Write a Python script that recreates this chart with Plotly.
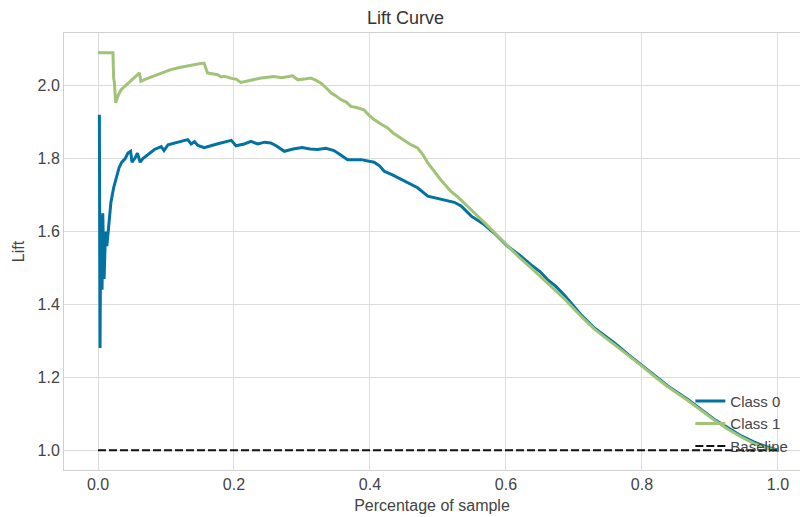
import plotly.graph_objects as go

# ---- data ----
class0_x = [0.002, 0.003, 0.004, 0.006, 0.007, 0.009, 0.011, 0.013, 0.016, 0.019, 0.023, 0.027,
            0.031, 0.035, 0.040, 0.044, 0.048, 0.050, 0.054, 0.058, 0.062, 0.066, 0.073, 0.083,
            0.093, 0.097, 0.103, 0.115, 0.132, 0.137, 0.142, 0.147, 0.156, 0.175, 0.196, 0.203,
            0.215, 0.225, 0.235, 0.245, 0.254, 0.262, 0.274, 0.287, 0.300, 0.312, 0.323, 0.335,
            0.347, 0.357, 0.367, 0.387, 0.406, 0.414, 0.421, 0.433, 0.446, 0.458, 0.470, 0.485,
            0.504, 0.524, 0.534, 0.549, 0.568, 0.583, 0.602, 0.620, 0.637, 0.650, 0.661, 0.673,
            0.686, 0.700, 0.710, 0.730, 0.759, 0.780, 0.801, 0.820, 0.838, 0.867, 0.886, 0.906,
            0.926, 0.946, 0.965, 0.985, 1.000]
class0_y = [1.920, 1.280, 1.640, 1.440, 1.650, 1.470, 1.600, 1.560, 1.620, 1.680, 1.720, 1.750,
            1.775, 1.790, 1.800, 1.815, 1.820, 1.790, 1.800, 1.815, 1.790, 1.800, 1.810, 1.825,
            1.833, 1.822, 1.838, 1.843, 1.852, 1.840, 1.846, 1.836, 1.830, 1.840, 1.850, 1.835,
            1.840, 1.847, 1.840, 1.845, 1.843, 1.835, 1.820, 1.826, 1.830, 1.826, 1.825, 1.828,
            1.822, 1.810, 1.797, 1.797, 1.790, 1.780, 1.765, 1.755, 1.742, 1.730, 1.720, 1.697,
            1.688, 1.680, 1.670, 1.642, 1.619, 1.595, 1.560, 1.535, 1.508, 1.490, 1.468, 1.450,
            1.425, 1.395, 1.372, 1.335, 1.295, 1.262, 1.231, 1.203, 1.176, 1.140, 1.113, 1.085,
            1.062, 1.039, 1.022, 1.008, 1.000]

class1_x = [0.000, 0.022, 0.023, 0.024, 0.026, 0.030, 0.034, 0.040, 0.049, 0.055, 0.061, 0.063,
            0.070, 0.082, 0.095, 0.107, 0.120, 0.132, 0.145, 0.156, 0.161, 0.170, 0.176, 0.181,
            0.186, 0.196, 0.203, 0.210, 0.225, 0.240, 0.259, 0.270, 0.286, 0.294, 0.303, 0.313,
            0.320, 0.328, 0.335, 0.343, 0.350, 0.357, 0.365, 0.372, 0.380, 0.391, 0.398, 0.406,
            0.416, 0.426, 0.434, 0.441, 0.450, 0.460, 0.470, 0.478, 0.485, 0.494, 0.504, 0.512,
            0.519, 0.529, 0.539, 0.553, 0.568, 0.585, 0.602, 0.620, 0.637, 0.661, 0.686, 0.710,
            0.730, 0.759, 0.780, 0.801, 0.820, 0.838, 0.867, 0.886, 0.906, 0.926, 0.946, 0.965,
            0.985, 1.000]
class1_y = [2.090, 2.090, 2.020, 2.010, 1.953, 1.975, 1.989, 2.000, 2.016, 2.025, 2.035, 2.012,
            2.018, 2.026, 2.036, 2.044, 2.050, 2.055, 2.059, 2.062, 2.035, 2.032, 2.030, 2.024,
            2.026, 2.020, 2.018, 2.009, 2.016, 2.021, 2.025, 2.022, 2.027, 2.016, 2.018, 2.021,
            2.015, 2.007, 1.995, 1.980, 1.972, 1.962, 1.955, 1.943, 1.940, 1.934, 1.920, 1.907,
            1.895, 1.884, 1.870, 1.861, 1.850, 1.838, 1.829, 1.810, 1.788, 1.765, 1.742, 1.725,
            1.710, 1.695, 1.678, 1.652, 1.625, 1.593, 1.560, 1.528, 1.500, 1.458, 1.415, 1.368,
            1.332, 1.290, 1.260, 1.229, 1.200, 1.174, 1.137, 1.110, 1.083, 1.058, 1.036, 1.018,
            1.005, 0.998]

baseline_x = [0.0, 1.0]
baseline_y = [1.0, 1.0]

x_ticks = [0.0, 0.2, 0.4, 0.6, 0.8, 1.0]
y_ticks = [1.0, 1.2, 1.4, 1.6, 1.8, 2.0]

FONT = "Liberation Sans, Arial, sans-serif"

fig = go.Figure()
fig.add_trace(go.Scatter(x=class0_x, y=class0_y, mode="lines", name="Class 0",
                         line=dict(color="#0272a2", width=3)))
fig.add_trace(go.Scatter(x=class1_x, y=class1_y, mode="lines", name="Class 1",
                         line=dict(color="#9fc377", width=3)))
fig.add_trace(go.Scatter(x=baseline_x, y=baseline_y, mode="lines", name="Baseline",
                         line=dict(color="#111111", width=2, dash="8px,3px")))

fig.update_layout(
    width=800, height=517,
    margin=dict(l=64, r=0, t=33, b=47),
    paper_bgcolor="white", plot_bgcolor="white",
    font=dict(family=FONT, size=16, color="#444444"),
    title=dict(text="Lift Curve", x=0.507, xanchor="center", y=0.965, yanchor="middle",
               font=dict(size=18, color="#333333")),
    showlegend=True,
    legend=dict(x=0.851, xanchor="left", y=0.195, yanchor="top",
                bgcolor="rgba(0,0,0,0)", borderwidth=0,
                font=dict(size=15, color="#444444"), tracegroupgap=0,
                itemwidth=30),
    hovermode=False,
)
fig.update_xaxes(range=[-0.05, 1.0324], tickvals=x_ticks, ticktext=[f"{v:.1f}" for v in x_ticks],
                 showgrid=True, gridcolor="#dcdcdc", gridwidth=1, zeroline=False,
                 showline=True, linecolor="#d0d0d0", linewidth=1, mirror=True,
                 ticks="", title=dict(text="Percentage of sample", standoff=7,
                                      font=dict(size=16, color="#444444")))
fig.update_yaxes(range=[0.9455, 2.1445], tickvals=y_ticks, ticktext=[f"{v:.1f}" for v in y_ticks],
                 showgrid=True, gridcolor="#dcdcdc", gridwidth=1, zeroline=False,
                 showline=True, linecolor="#d0d0d0", linewidth=1, mirror=False,
                 ticks="", title=dict(text="Lift", standoff=8,
                                      font=dict(size=16, color="#444444")))

fig.write_html("out.html")
